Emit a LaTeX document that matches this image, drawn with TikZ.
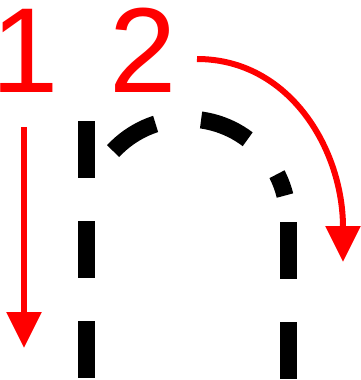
\documentclass[tikz,border=0pt]{standalone}
\usepackage{fontspec}
\newfontfamily\digitfont{Liberation Sans}
\usetikzlibrary{arrows.meta}

\tikzset{
  stroke/.style={line width=17pt, dash pattern=on 57pt off 43pt},
  redarrow/.style={red, line width=6pt, -{Triangle[length=36pt,width=34pt]}},
  digit/.style={red, font=\digitfont\fontsize{121}{121}\selectfont, inner sep=0pt}
}

\begin{document}
\begin{tikzpicture}[x=1pt,y=-1pt]
    \useasboundingbox (0,0) rectangle (360,380);

    % 笔画序号
    \node[digit, anchor=base west] (one) at (-9,92) {1};
    \node[digit, anchor=base] (two) at (143,92) {2};

    % 字母 n 的虚线轮廓
    \draw[stroke] (86,121) -- (86,380);
    \draw[stroke] (288,222) -- (288,380);
    \draw[stroke, dash pattern=on 51pt off 46pt]
        (113.1,151.1) arc[start angle=-137, end angle=-14, radius=101];

    % 笔顺箭头
    \coordinate (s1) at (24,127);
    \coordinate (e1) at (24,348);
    \draw[redarrow] (s1) -- (e1);

    \coordinate (s2) at (197,59);
    \coordinate (e2) at (343,262);
    \draw[redarrow] (s2) .. controls (290,59) and (343,150) .. (e2);
\end{tikzpicture}
\end{document}
